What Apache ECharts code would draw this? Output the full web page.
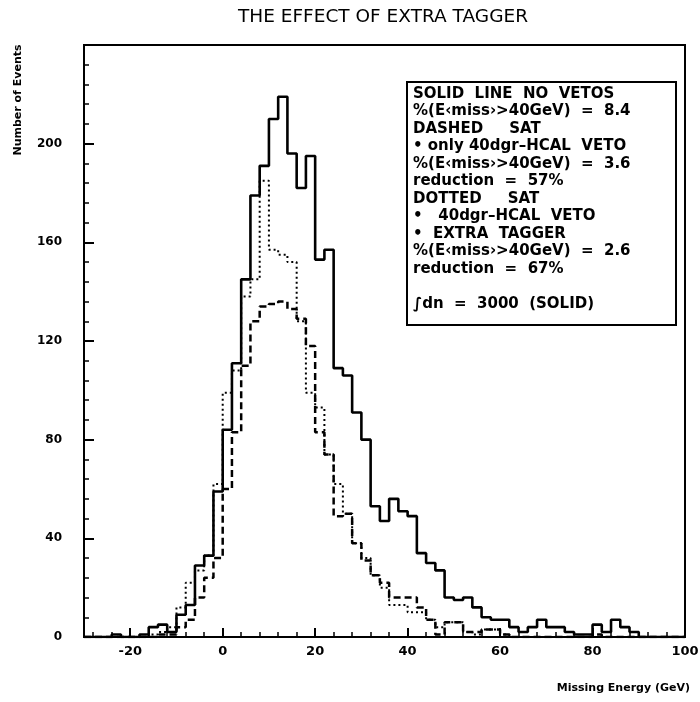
<!DOCTYPE html>
<html>
<head>
<meta charset="utf-8">
<script src="https://cdn.jsdelivr.net/npm/echarts@6/dist/echarts.min.js"></script>
<style>
  html, body { margin: 0; padding: 0; background: #ffffff; }
  #chart { width: 700px; height: 702px; }
</style>
</head>
<body>
<div id="chart"></div>
<script>
// Missing-energy histograms, 2 GeV bins from -30 to 100 GeV
const binEdges = [
  -30, -28, -26, -24, -22, -20, -18, -16, -14, -12, -10, -8, -6, -4, -2,
  0, 2, 4, 6, 8, 10, 12, 14, 16, 18, 20, 22, 24, 26, 28,
  30, 32, 34, 36, 38, 40, 42, 44, 46, 48, 50, 52, 54, 56, 58,
  60, 62, 64, 66, 68, 70, 72, 74, 76, 78, 80, 82, 84, 86, 88,
  90, 92, 94, 96, 98, 100
];

// Solid: no vetos
const noVetoCounts = [
  0, 0, 0, 1, 0, 0, 1, 4, 5, 2, 9, 13, 29, 33, 59,
  84, 111, 145, 179, 191, 210, 219, 196, 182, 195, 153, 157, 109, 106, 91,
  80, 53, 47, 56, 51, 49, 34, 30, 27, 16, 15, 16, 12, 8, 7,
  7, 4, 2, 4, 7, 4, 4, 2, 1, 1, 5, 2, 7, 4, 2,
  0, 0, 0, 0, 0
];

// Dashed: SAT, only 40dgr-HCAL veto
const hcalVetoCounts = [
  0, 0, 0, 0, 0, 0, 0, 0, 1, 1, 4, 7, 16, 24, 32,
  60, 83, 110, 128, 134, 135, 136, 133, 129, 118, 83, 74, 49, 50, 38,
  31, 25, 22, 16, 16, 16, 12, 7, 1, 6, 6, 2, 2, 3, 3,
  1, 0, 0, 0, 0, 0, 0, 0, 0, 0, 1, 0, 0, 0, 0,
  0, 0, 0, 0, 0
];

// Dotted: SAT, 40dgr-HCAL veto + extra tagger
const extraTaggerCounts = [
  0, 0, 0, 0, 0, 0, 0, 1, 2, 4, 12, 22, 27, 33, 62,
  99, 108, 138, 145, 185, 157, 155, 152, 128, 99, 93, 74, 62, 50, 38,
  32, 25, 20, 13, 13, 10, 10, 7, 4, 6, 6, 2, 1, 3, 3,
  1, 0, 0, 0, 0, 0, 0, 0, 0, 0, 0, 0, 0, 0, 0,
  0, 0, 0, 0, 0
];

const xMajorTicks = [-20, 0, 20, 40, 60, 80, 100];
const xMinorTicks = [-28, -24, -16, -12, -8, -4, 4, 8, 12, 16, 24, 28, 32, 36,
  44, 48, 52, 56, 64, 68, 72, 76, 84, 88, 92, 96];

const titleText = 'THE EFFECT OF EXTRA TAGGER';
const yAxisTitle = 'Number of Events';
const xAxisTitle = 'Missing Energy (GeV)';

const legendLines = [
  'SOLID  LINE  NO  VETOS',
  '%(E\u2039miss\u203A>40GeV)  =  8.4',
  'DASHED     SAT',
  '\u2022 only 40dgr\u2013HCAL  VETO',
  '%(E\u2039miss\u203A>40GeV)  =  3.6',
  'reduction  =  57%',
  'DOTTED     SAT',
  '\u2022   40dgr\u2013HCAL  VETO',
  '\u2022  EXTRA  TAGGER',
  '%(E\u2039miss\u203A>40GeV)  =  2.6',
  'reduction  =  67%',
  '',
  '\u222Bdn  =  3000  (SOLID)'
];

// Turn bin counts into step-line points: one point per bin's low edge,
// plus a closing point at the last upper edge.
function stepPoints(counts) {
  const pts = counts.map((c, i) => [binEdges[i], c]);
  pts.push([binEdges[binEdges.length - 1], counts[counts.length - 1]]);
  return pts;
}

const chart = echarts.init(document.getElementById('chart'), null, { renderer: 'canvas' });

const labelFont = { color: '#000', fontFamily: 'DejaVu Sans', fontWeight: 'bold' };

const option = {
  backgroundColor: '#ffffff',
  animation: false,
  grid: {
    left: 84, right: 15, top: 45, bottom: 65,
    show: true, borderColor: '#000', borderWidth: 2,
    outerBoundsMode: 'none'
  },
  xAxis: [
    {
      type: 'value', min: -30, max: 100,
      axisLine: { show: true, onZero: false, lineStyle: { color: '#000', width: 2 } },
      axisTick: { show: true, inside: true, length: 9, customValues: xMajorTicks,
        lineStyle: { color: '#000', width: 2 } },
      axisLabel: Object.assign({ margin: 8, fontSize: 13, customValues: xMajorTicks }, labelFont),
      splitLine: { show: false }
    },
    {
      type: 'value', min: -30, max: 100, position: 'bottom',
      axisLine: { show: false, onZero: false },
      axisTick: { show: true, inside: true, length: 5, customValues: xMinorTicks,
        lineStyle: { color: '#000', width: 1.5 } },
      axisLabel: { show: false },
      splitLine: { show: false }
    }
  ],
  yAxis: {
    type: 'value', min: 0, max: 240, interval: 40,
    axisLine: { show: true, onZero: false, lineStyle: { color: '#000', width: 2 } },
    axisTick: { show: true, inside: true, length: 10, lineStyle: { color: '#000', width: 2 } },
    minorTick: { show: true, splitNumber: 5, length: 5, lineStyle: { color: '#000', width: 1.5 } },
    axisLabel: Object.assign({ margin: 22, fontSize: 12,
      formatter: v => (v === 240 ? '' : String(v)) }, labelFont),
    splitLine: { show: false }
  },
  series: [
    {
      name: 'extra tagger', type: 'line', step: 'end', symbol: 'none',
      data: stepPoints(extraTaggerCounts),
      lineStyle: { color: '#000', width: 2, type: [2, 3] },
      z: 2
    },
    {
      name: 'hcal veto', type: 'line', step: 'end', symbol: 'none',
      data: stepPoints(hcalVetoCounts),
      lineStyle: { color: '#000', width: 2.5, type: [7, 4] },
      z: 3
    },
    {
      name: 'no vetos', type: 'line', step: 'end', symbol: 'none',
      data: stepPoints(noVetoCounts),
      lineStyle: { color: '#000', width: 2.6, type: 'solid' },
      z: 4
    }
  ],
  graphic: [
    {
      type: 'text', x: 383, y: 17,
      style: { text: titleText, fill: '#000', font: '18.5px "DejaVu Sans"',
        textAlign: 'center', textVerticalAlign: 'middle' }
    },
    {
      type: 'text', x: 18, y: 100, rotation: Math.PI / 2,
      style: { text: yAxisTitle, fill: '#000', font: 'bold 11px "DejaVu Sans"',
        textAlign: 'center', textVerticalAlign: 'middle' }
    },
    {
      type: 'text', x: 690, y: 688,
      style: { text: xAxisTitle, fill: '#000', font: 'bold 11px "DejaVu Sans"',
        textAlign: 'right', textVerticalAlign: 'middle' }
    },
    {
      type: 'rect', shape: { x: 407, y: 82, width: 269, height: 243 },
      style: { fill: '#fff', stroke: '#000', lineWidth: 2 }, z: 10
    },
    {
      type: 'text', x: 413, y: 85, z: 11,
      style: { text: legendLines.join('\n'), fill: '#000', font: 'bold 15px "DejaVu Sans"',
        lineHeight: 17.5, textAlign: 'left', textVerticalAlign: 'top' }
    }
  ]
};

chart.setOption(option);
</script>
</body>
</html>
